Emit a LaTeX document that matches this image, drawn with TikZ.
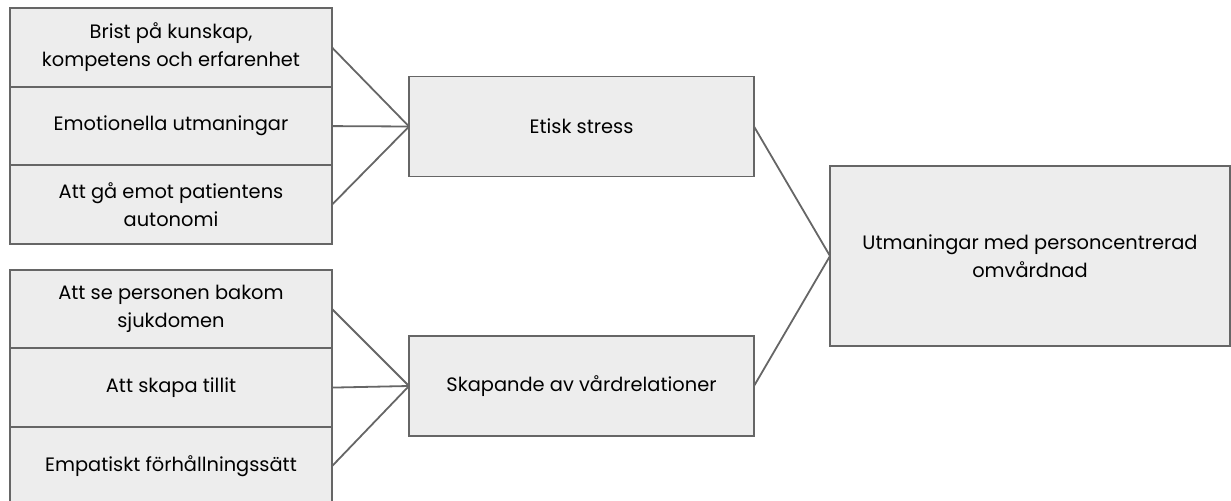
\documentclass[tikz,border=0pt]{standalone}
\usepackage{fontspec}
\setmainfont{Poppins}
\usetikzlibrary{positioning}
\definecolor{boxFill}{HTML}{EDEDED}
\definecolor{boxLine}{HTML}{666666}
\definecolor{txtDark}{HTML}{000000}
\begin{document}
\begin{tikzpicture}[x=0.5pt, y=-0.5pt,
      b/.style={draw=boxLine, fill=boxFill, line width=0.9pt, outer sep=0pt,
        align=center, text=txtDark, font=\fontsize{9.7}{14}\selectfont},
      f/.style={b, minimum width=161pt, minimum height=39.3pt},
      m/.style={b, minimum width=172.5pt, minimum height=50pt},
      c/.style={draw=boxLine, line width=0.9pt}]
    \useasboundingbox (0,0) rectangle (1231,501);
    % group 1: etisk stress
    \node[f] (f1) at (171,47.5) {Brist på kunskap,\\kompetens och erfarenhet};
    \node[f, below=0pt of f1] (f2) {Emotionella utmaningar};
    \node[f, below=0pt of f2] (f3) {Att gå emot patientens\\autonomi};
    \node[m] (etisk) at (581.5,126.5) {Etisk stress};
    \draw[c] (f1.east) -- (etisk.west);
    \draw[c] (f2.east) -- (etisk.west);
    \draw[c] (f3.east) -- (etisk.west);
    % group 2: vårdrelationer
    \node[f] (g1) at (171,309) {Att se personen bakom\\sjukdomen};
    \node[f, below=0pt of g1] (g2) {Att skapa tillit};
    \node[f, below=0pt of g2] (g3) {Empatiskt förhållningssätt};
    \node[m] (skap) at (581.5,386) {Skapande av vårdrelationer};
    \draw[c] (g1.east) -- (skap.west);
    \draw[c] (g2.east) -- (skap.west);
    \draw[c] (g3.east) -- (skap.west);
    % result
    \node[b, minimum width=200pt, minimum height=90pt] (utm) at (1030,256)
      {Utmaningar med personcentrerad\\omvårdnad};
    \draw[c] (etisk.east) -- (utm.west);
    \draw[c] (skap.east) -- (utm.west);
  \end{tikzpicture}
\end{document}
